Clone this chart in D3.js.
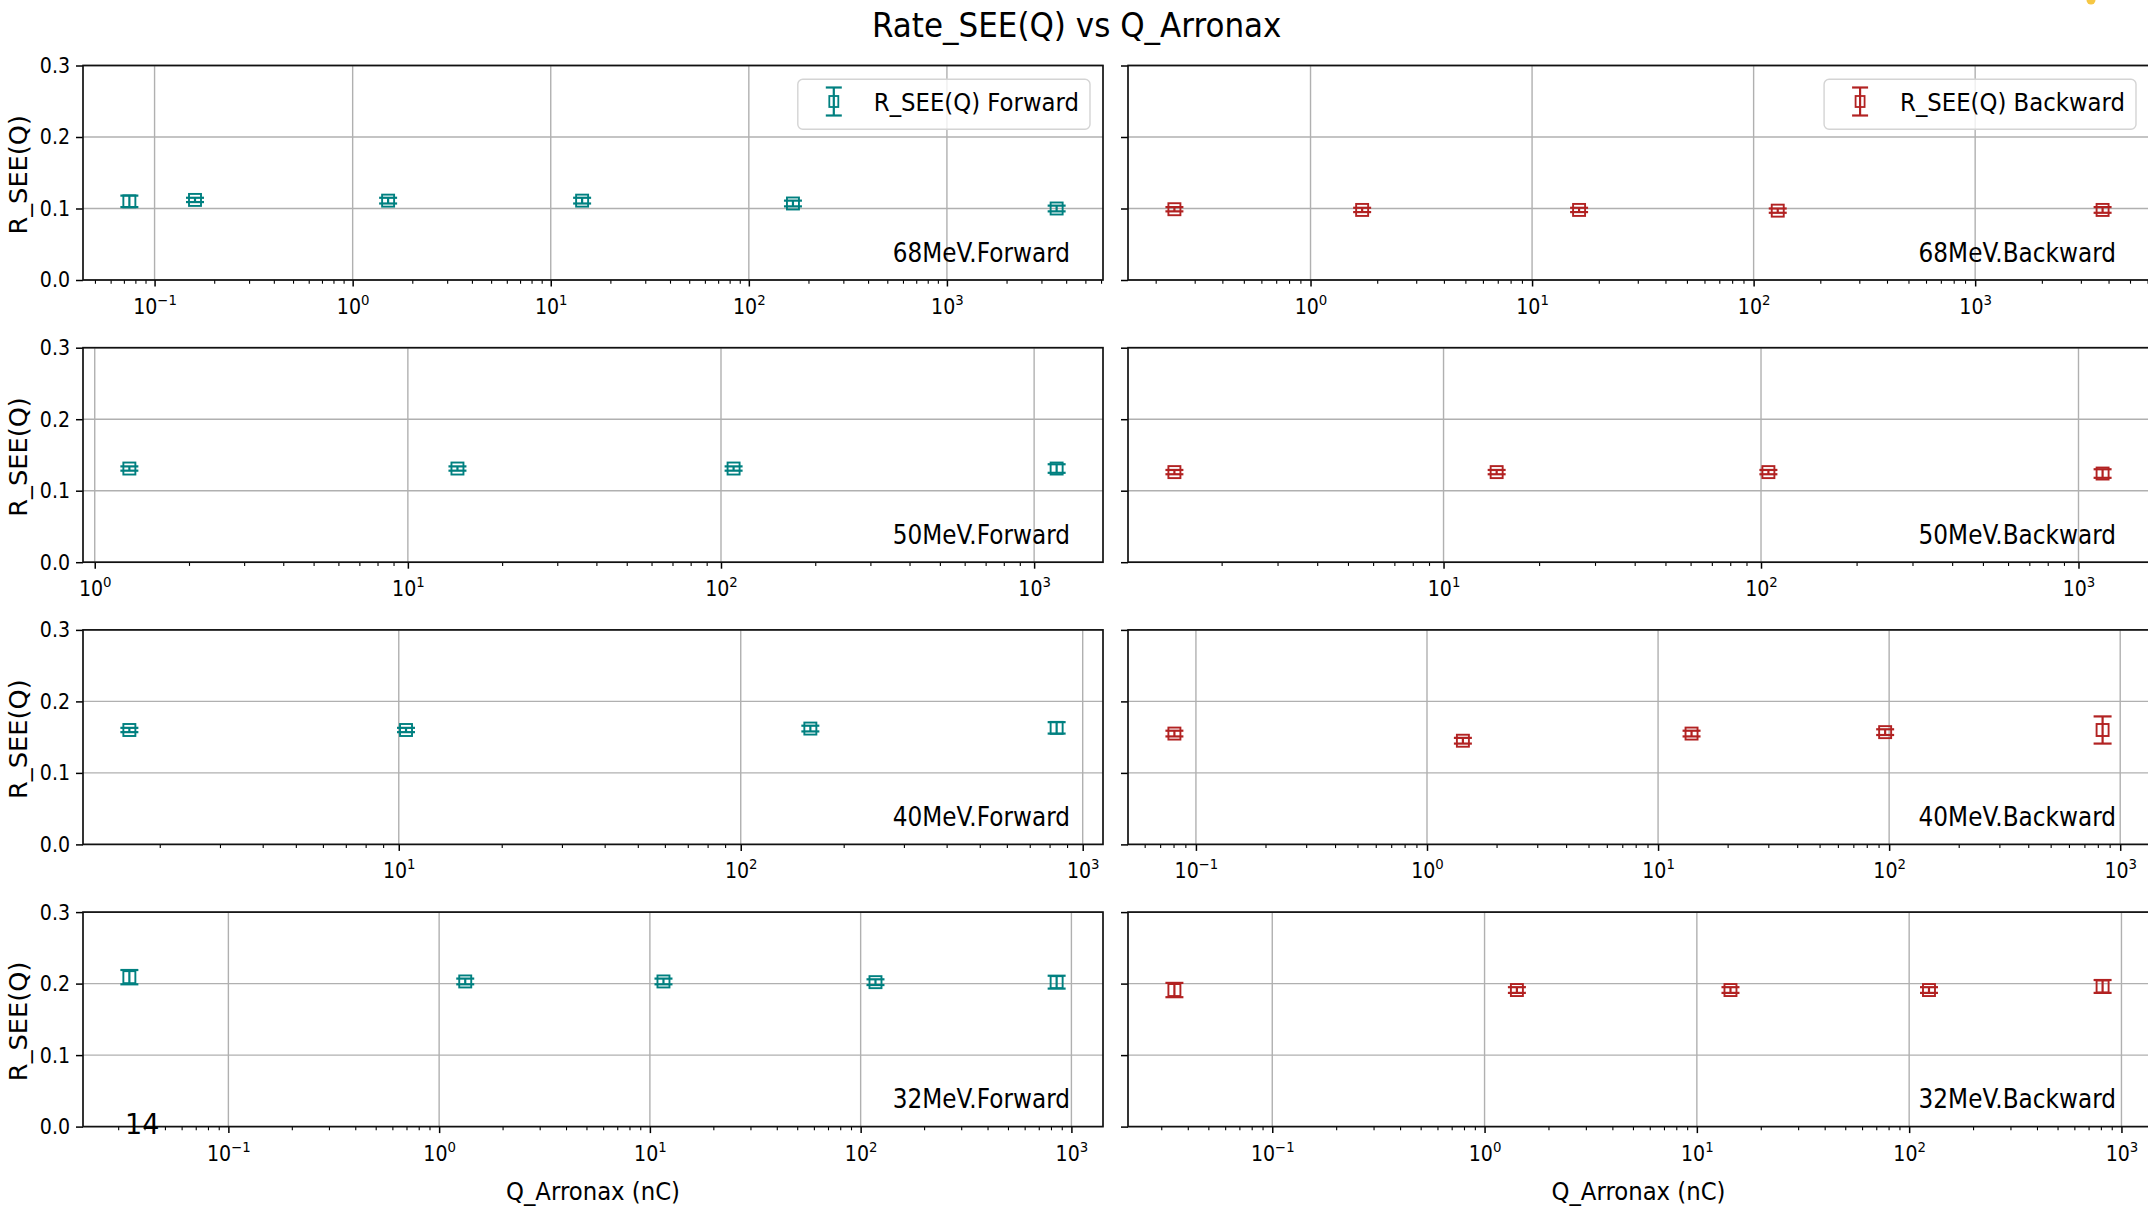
<!DOCTYPE html>
<html><head><meta charset="utf-8">
<script src="https://cdn.jsdelivr.net/npm/d3@7"></script>
<style>
body{margin:0;background:#fff}
svg{display:block}
text{font-family:"DejaVu Sans",sans-serif}
</style>
</head><body>
<svg id="c" width="2148" height="1215"></svg>
<script>
// ---------------- data ----------------
const titleText = "Rate_SEE(Q) vs Q_Arronax";
const yLabelText = "R_SEE(Q)";
const xLabelText = "Q_Arronax (nC)";
const energies = ["68MeV", "50MeV", "40MeV", "32MeV"];
const directions = ["Forward", "Backward"];
const legendLabels = ["R_SEE(Q) Forward", "R_SEE(Q) Backward"];
const seriesColors = ["#008080", "#b22222"];
const yTicks = [0.0, 0.1, 0.2, 0.3];
const pageNumber = "14";

// 68 MeV
const q68F = [0.0746, 0.160, 1.51, 14.4, 167, 3580];
const r68F = [0.110, 0.112, 0.111, 0.111, 0.107, 0.100];
const e68F = [0.008, 0.003, 0.004, 0.004, 0.004, 0.004];
const q68B = [0.243, 1.71, 16.3, 128.5, 3760];
const r68B = [0.099, 0.098, 0.098, 0.097, 0.098];
const e68B = [0.003, 0.003, 0.003, 0.003, 0.004];
// 50 MeV
const q50F = [1.29, 14.4, 109.7, 1180];
const r50F = [0.131, 0.131, 0.131, 0.131];
const e50F = [0.003, 0.003, 0.003, 0.006];
const q50B = [1.42, 14.7, 105.5, 1191];
const r50B = [0.126, 0.126, 0.126, 0.124];
const e50B = [0.003, 0.003, 0.003, 0.006];
// 40 MeV
const q40F = [1.63, 10.5, 159.8, 839];
const r40F = [0.160, 0.160, 0.162, 0.163];
const e40F = [0.003, 0.003, 0.004, 0.008];
const q40B = [0.0807, 1.43, 13.96, 96.1, 839];
const r40B = [0.155, 0.145, 0.155, 0.157, 0.160];
const e40B = [0.004, 0.004, 0.004, 0.004, 0.019];
// 32 MeV
const q32F = [0.0339, 1.33, 11.6, 117.6, 851];
const r32F = [0.209, 0.203, 0.203, 0.202, 0.202];
const e32F = [0.010, 0.004, 0.004, 0.004, 0.009];
const q32B = [0.0346, 1.42, 14.4, 124, 815];
const r32B = [0.191, 0.191, 0.191, 0.191, 0.196];
const e32B = [0.010, 0.004, 0.004, 0.004, 0.009];

const panelData = [
  [[q68F, r68F, e68F], [q68B, r68B, e68B]],
  [[q50F, r50F, e50F], [q50B, r50B, e50B]],
  [[q40F, r40F, e40F], [q40B, r40B, e40B]],
  [[q32F, r32F, e32F], [q32B, r32B, e32B]]
];

// ---------------- layout ----------------
const SY = 1.07;                 // slight vertical stretch of the original text
const colX = [[83, 1103], [1128, 2149]];
const rowTop0 = 65.5, rowStep = 282.2, rowH = 214.5;
const gridColor = "#b0b0b0";

const svg = d3.select("#c");

function stretchedText(parent, x, y, str, size, anchor, sy) {
  return parent.append("text")
    .attr("transform", `translate(${x},${y}) scale(1,${sy || SY})`)
    .attr("font-size", size)
    .attr("text-anchor", anchor || "start")
    .attr("fill", "#000")
    .text(str);
}

// title
stretchedText(svg, 1076.7, 37.3, titleText, 31, "middle");

panelData.forEach((row, ri) => {
  const top = rowTop0 + ri * rowStep;
  const bottom = top + rowH;
  row.forEach(([qs, rs, es], ci) => {
    const [x0, x1] = colX[ci];
    const lo = Math.log10(d3.min(qs)), hi = Math.log10(d3.max(qs));
    const pad = (hi - lo) * 0.05;
    const x = d3.scaleLog().domain([10 ** (lo - pad), 10 ** (hi + pad)]).range([x0, x1]);
    const y = d3.scaleLinear().domain([0, 0.3]).range([bottom, top]);
    const color = seriesColors[ci];
    const g = svg.append("g");

    // ticks
    const [d0, d1] = x.domain();
    const majors = [], minors = [];
    for (let n = Math.floor(Math.log10(d0)); n <= Math.ceil(Math.log10(d1)); n++) {
      for (let k = 1; k < 10; k++) {
        const v = k * Math.pow(10, n);
        if (v >= d0 && v <= d1) (k === 1 ? majors : minors).push(v);
      }
    }

    // grid
    g.append("g").selectAll("line.vg").data(majors).join("line")
      .attr("x1", d => x(d)).attr("x2", d => x(d))
      .attr("y1", top).attr("y2", bottom)
      .attr("stroke", gridColor).attr("stroke-width", 1.4);
    g.append("g").selectAll("line.hg").data(yTicks).join("line")
      .attr("x1", x0).attr("x2", x1)
      .attr("y1", d => y(d)).attr("y2", d => y(d))
      .attr("stroke", gridColor).attr("stroke-width", 1.4);

    // x axis major
    const gxMaj = g.append("g").attr("transform", `translate(0,${bottom})`)
      .call(d3.axisBottom(x).tickValues(majors).tickSize(6.5).tickFormat(d3.format("~g")));
    gxMaj.attr("font-size", null).attr("font-family", null);
    gxMaj.select(".domain").remove();
    gxMaj.selectAll(".tick line").attr("stroke", "#000").attr("stroke-width", 1.5);
    gxMaj.selectAll(".tick text").each(function (d) {
      const t = d3.select(this);
      const e = Math.round(Math.log10(d));
      t.text(null).attr("y", null).attr("dy", null)
        .attr("transform", `translate(0,34) scale(1,${SY})`)
        .attr("text-anchor", "middle").attr("font-size", 19).attr("fill", "#000");
      t.append("tspan").text("10");
      t.append("tspan").attr("font-size", 13.3).attr("dy", -8.5)
        .text(e < 0 ? "\u2212" + Math.abs(e) : String(e));
    });
    // x axis minor
    const gxMin = g.append("g").attr("transform", `translate(0,${bottom})`)
      .call(d3.axisBottom(x).tickValues(minors).tickSize(3.7).tickFormat(""));
    gxMin.select(".domain").remove();
    gxMin.selectAll(".tick line").attr("stroke", "#000").attr("stroke-width", 1.1);

    // y axis
    const gy = g.append("g").attr("transform", `translate(${x0},0)`)
      .call(d3.axisLeft(y).tickValues(yTicks).tickSize(7)
        .tickFormat(ci === 0 ? d3.format(".1f") : () => ""));
    gy.attr("font-size", null).attr("font-family", null);
    gy.select(".domain").remove();
    gy.selectAll(".tick line").attr("stroke", "#000").attr("stroke-width", 1.5);
    gy.selectAll(".tick text")
      .attr("x", null).attr("dy", null)
      .attr("transform", `translate(-13,6.9) scale(1,${SY})`)
      .attr("text-anchor", "end").attr("font-size", 19).attr("fill", "#000");

    // spines
    g.append("rect").attr("x", x0).attr("y", top).attr("width", x1 - x0).attr("height", rowH)
      .attr("fill", "none").attr("stroke", "#111").attr("stroke-width", 1.7);

    // error bars + markers
    const pts = qs.map((q, i) => ({ q, r: rs[i], e: es[i] }));
    const pg = g.append("g");
    pg.selectAll("line.eb").data(pts).join("line")
      .attr("x1", d => x(d.q)).attr("x2", d => x(d.q))
      .attr("y1", d => y(d.r - d.e)).attr("y2", d => y(d.r + d.e))
      .attr("stroke", color).attr("stroke-width", 2.2);
    pg.selectAll("line.capT").data(pts).join("line")
      .attr("x1", d => x(d.q) - 9).attr("x2", d => x(d.q) + 9)
      .attr("y1", d => y(d.r + d.e)).attr("y2", d => y(d.r + d.e))
      .attr("stroke", color).attr("stroke-width", 2.2);
    pg.selectAll("line.capB").data(pts).join("line")
      .attr("x1", d => x(d.q) - 9).attr("x2", d => x(d.q) + 9)
      .attr("y1", d => y(d.r - d.e)).attr("y2", d => y(d.r - d.e))
      .attr("stroke", color).attr("stroke-width", 2.2);
    pg.selectAll("rect.mk").data(pts).join("rect")
      .attr("x", d => x(d.q) - 6).attr("y", d => y(d.r) - 6)
      .attr("width", 12).attr("height", 12)
      .attr("fill", "none").attr("stroke", color).attr("stroke-width", 1.9);

    // panel annotation
    stretchedText(g, x1 - 33, bottom - 18.5, `${energies[ri]}.${directions[ci]}`, 23.2, "end", 1.12);

    // legend (first row)
    if (ri === 0) {
      const lg = g.append("g");
      const boxRight = x1 - 13;
      const textEnd = boxRight - 11;
      const lt = stretchedText(lg, 0, 110.7, legendLabels[ci], 22.8, "end");
      const w = lt.node().getComputedTextLength();
      lt.attr("transform", `translate(${textEnd},110.7) scale(1,${SY})`);
      const boxLeft = textEnd - w - 76;
      lg.insert("rect", "text").attr("x", boxLeft).attr("y", 79.3)
        .attr("width", boxRight - boxLeft).attr("height", 50).attr("rx", 5)
        .attr("fill", "rgba(255,255,255,0.8)").attr("stroke", "#d4d4d4").attr("stroke-width", 1.4);
      const mx = boxLeft + 36, my = 101.5;
      lg.append("line").attr("x1", mx).attr("x2", mx).attr("y1", my - 14).attr("y2", my + 14)
        .attr("stroke", color).attr("stroke-width", 2.2);
      [my - 14, my + 14].forEach(cy => lg.append("line")
        .attr("x1", mx - 8).attr("x2", mx + 8).attr("y1", cy).attr("y2", cy)
        .attr("stroke", color).attr("stroke-width", 2.2));
      lg.append("rect").attr("x", mx - 4.5).attr("y", my - 5.5).attr("width", 9).attr("height", 11)
        .attr("fill", "none").attr("stroke", color).attr("stroke-width", 1.8);
    }

    // y label (left column only)
    if (ci === 0) {
      g.append("text")
        .attr("transform", `translate(26.5,${top + rowH / 2 + 2}) rotate(-90) scale(${SY},1)`)
        .attr("text-anchor", "middle").attr("font-size", 24).attr("fill", "#000")
        .text(yLabelText);
    }
    // x label (last row)
    if (ri === panelData.length - 1) {
      stretchedText(g, (x0 + x1) / 2, 1200, xLabelText, 22.8, "middle");
    }
  });
});

// slide page number and small yellow mark (overlays in the picture)
stretchedText(svg, 125, 1134, pageNumber, 27, "start");
svg.append("circle").attr("cx", 2091).attr("cy", 0).attr("r", 4.5).attr("fill", "#f6c744");
</script>
</body></html>
